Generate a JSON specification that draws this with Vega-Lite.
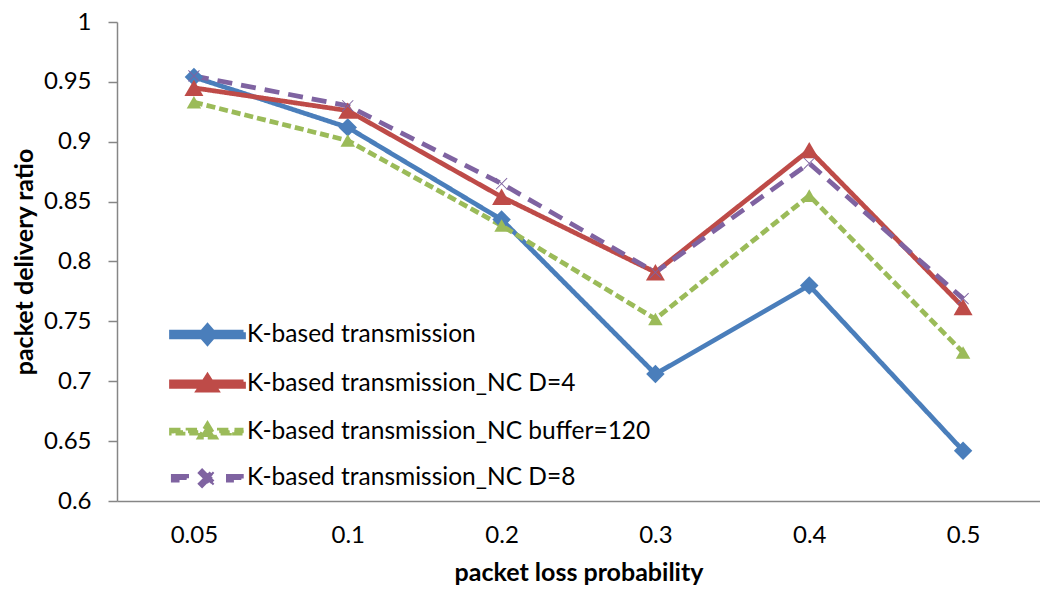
{
  "$schema": "https://vega.github.io/schema/vega-lite/v6.json",
  "autosize": "none",
  "width": 923,
  "height": 479,
  "padding": {"left": 117, "top": 22, "right": 0, "bottom": 91},
  "background": "white",
  "config": {
    "view": {"stroke": null},
    "font": "Lato"
  },
  "data": {
    "values": [
      {"p": "0.05", "series": "K-based transmission", "ratio": 0.954},
      {"p": "0.1", "series": "K-based transmission", "ratio": 0.912},
      {"p": "0.2", "series": "K-based transmission", "ratio": 0.835},
      {"p": "0.3", "series": "K-based transmission", "ratio": 0.706},
      {"p": "0.4", "series": "K-based transmission", "ratio": 0.780},
      {"p": "0.5", "series": "K-based transmission", "ratio": 0.642},
      {"p": "0.05", "series": "K-based transmission_NC D=4", "ratio": 0.945},
      {"p": "0.1", "series": "K-based transmission_NC D=4", "ratio": 0.926},
      {"p": "0.2", "series": "K-based transmission_NC D=4", "ratio": 0.854},
      {"p": "0.3", "series": "K-based transmission_NC D=4", "ratio": 0.791},
      {"p": "0.4", "series": "K-based transmission_NC D=4", "ratio": 0.893},
      {"p": "0.5", "series": "K-based transmission_NC D=4", "ratio": 0.762},
      {"p": "0.05", "series": "K-based transmission_NC buffer=120", "ratio": 0.933},
      {"p": "0.1", "series": "K-based transmission_NC buffer=120", "ratio": 0.901},
      {"p": "0.2", "series": "K-based transmission_NC buffer=120", "ratio": 0.830},
      {"p": "0.3", "series": "K-based transmission_NC buffer=120", "ratio": 0.752},
      {"p": "0.4", "series": "K-based transmission_NC buffer=120", "ratio": 0.855},
      {"p": "0.5", "series": "K-based transmission_NC buffer=120", "ratio": 0.724},
      {"p": "0.05", "series": "K-based transmission_NC D=8", "ratio": 0.955},
      {"p": "0.1", "series": "K-based transmission_NC D=8", "ratio": 0.930},
      {"p": "0.2", "series": "K-based transmission_NC D=8", "ratio": 0.865},
      {"p": "0.3", "series": "K-based transmission_NC D=8", "ratio": 0.791},
      {"p": "0.4", "series": "K-based transmission_NC D=8", "ratio": 0.882},
      {"p": "0.5", "series": "K-based transmission_NC D=8", "ratio": 0.769}
    ]
  },
  "encoding": {
    "x": {
      "field": "p",
      "type": "nominal",
      "sort": ["0.05", "0.1", "0.2", "0.3", "0.4", "0.5"],
      "scale": {"type": "point", "padding": 0.5},
      "axis": {
        "title": "packet loss probability",
        "titleFont": "Lato",
        "titleFontSize": 25,
        "titleFontWeight": "bold",
        "titleColor": "#000000",
        "titlePadding": 13,
        "labelAngle": 0,
        "labelFont": "Lato",
        "labelFontSize": 24,
        "labelColor": "#000000",
        "labelPadding": 22,
        "ticks": false,
        "domainColor": "#868686",
        "domainWidth": 1.5,
        "grid": false
      }
    },
    "y": {
      "field": "ratio",
      "type": "quantitative",
      "scale": {"domain": [0.6, 1], "nice": false, "zero": false},
      "axis": {
        "title": "packet delivery ratio",
        "titleFont": "Lato",
        "titleFontSize": 25,
        "titleFontWeight": "bold",
        "titleColor": "#000000",
        "titlePadding": 6,
        "values": [0.6, 0.65, 0.7, 0.75, 0.8, 0.85, 0.9, 0.95, 1],
        "format": "~g",
        "labelFont": "Lato",
        "labelFontSize": 24,
        "labelColor": "#000000",
        "labelPadding": 17,
        "tickSize": 9,
        "tickColor": "#868686",
        "tickWidth": 1.5,
        "domainColor": "#868686",
        "domainWidth": 1.5,
        "grid": false
      }
    }
  },
  "layer": [
    {
      "mark": {"type": "line", "strokeJoin": "round", "strokeCap": "butt"},
      "encoding": {
        "color": {
          "field": "series",
          "type": "nominal",
          "scale": {
            "domain": ["K-based transmission", "K-based transmission_NC D=4", "K-based transmission_NC buffer=120", "K-based transmission_NC D=8"],
            "range": ["#4A7EBB", "#BE4B48", "#9BBB59", "#7F63A1"]
          },
          "legend": {
            "orient": "none",
            "legendX": 52,
            "legendY": 292,
            "title": null,
            "padding": 0,
            "labelFont": "Lato",
            "labelFontSize": 24.5,
            "labelColor": "#000000",
            "labelLimit": 600,
            "labelOffset": 37,
            "symbolType": "M-1,-0.128H3V0.128H-1Z",
            "symbolSize": 1296,
            "rowPadding": 10.6,
            "encode": {
              "symbols": {
                "update": {
                  "shape": {"signal": "datum.value === 'K-based transmission' ? 'M-1,-0.128H3V0.128H-1Z M0.58,0L1,-0.48L1.42,0L1,0.48Z' : datum.value === 'K-based transmission_NC D=4' ? 'M-1,-0.128H3V0.128H-1Z M1,-0.44L1.5,0.34L0.5,0.34Z' : datum.value === 'K-based transmission_NC buffer=120' ? 'M-1,-0.084H-0.36V0.084H-1Z M-0.08,-0.084H0.48V0.084H-0.08Z M1.66,-0.084H2.22V0.084H1.66Z M2.5,-0.084H3V0.084H2.5Z M1,-0.4L1.42,0.3L0.58,0.3Z' : 'M-0.9,-0.1H-0.16V0.1H-0.9Z M2.16,-0.1H2.88V0.1H2.16Z M0.7,-0.38L1.38,0.3L1.3,0.38L0.62,-0.3Z M0.62,0.3L1.3,-0.38L1.38,-0.3L0.7,0.38Z'"},
                  "size": {"value": 1296},
                  "fill": {"scale": "color", "field": "value"},
                  "stroke": {"value": "transparent"},
                  "strokeWidth": {"value": 0},
                  "strokeDash": {"value": []},
                  "opacity": {"value": 1},
                  "fillOpacity": {"value": 1}
                }
              }
            }
          }
        },
        "strokeDash": {
          "field": "series",
          "type": "nominal",
          "scale": {
            "domain": ["K-based transmission", "K-based transmission_NC D=4", "K-based transmission_NC buffer=120", "K-based transmission_NC D=8"],
            "range": [[1, 0], [1, 0], [9, 4], [15, 9]]
          },
          "legend": null
        },
        "strokeWidth": {
          "field": "series",
          "type": "nominal",
          "scale": {
            "domain": ["K-based transmission", "K-based transmission_NC D=4", "K-based transmission_NC buffer=120", "K-based transmission_NC D=8"],
            "range": [4.75, 4.75, 3, 3.5]
          },
          "legend": null
        },
        "order": {"field": "p", "type": "ordinal"}
      }
    },
    {
      "transform": [{"filter": "datum.series === 'K-based transmission'"}],
      "mark": {"type": "point", "filled": true, "opacity": 1, "shape": "diamond", "size": 340, "color": "#4A7EBB"}
    },
    {
      "transform": [{"filter": "datum.series === 'K-based transmission_NC D=4'"}],
      "mark": {"type": "point", "filled": true, "opacity": 1, "shape": "triangle-up", "size": 360, "color": "#BE4B48"}
    },
    {
      "transform": [{"filter": "datum.series === 'K-based transmission_NC buffer=120'"}],
      "mark": {"type": "point", "filled": true, "opacity": 1, "shape": "triangle-up", "size": 210, "color": "#9BBB59"}
    },
    {
      "transform": [{"filter": "datum.series === 'K-based transmission_NC D=8'"}],
      "mark": {"type": "point", "filled": true, "opacity": 1, "shape": "M-0.8,-0.9L0.9,0.8L0.8,0.9L-0.9,-0.8Z M-0.9,0.8L0.8,-0.9L0.9,-0.8L-0.8,0.9Z", "size": 170, "color": "#7F63A1"}
    }
  ]
}
